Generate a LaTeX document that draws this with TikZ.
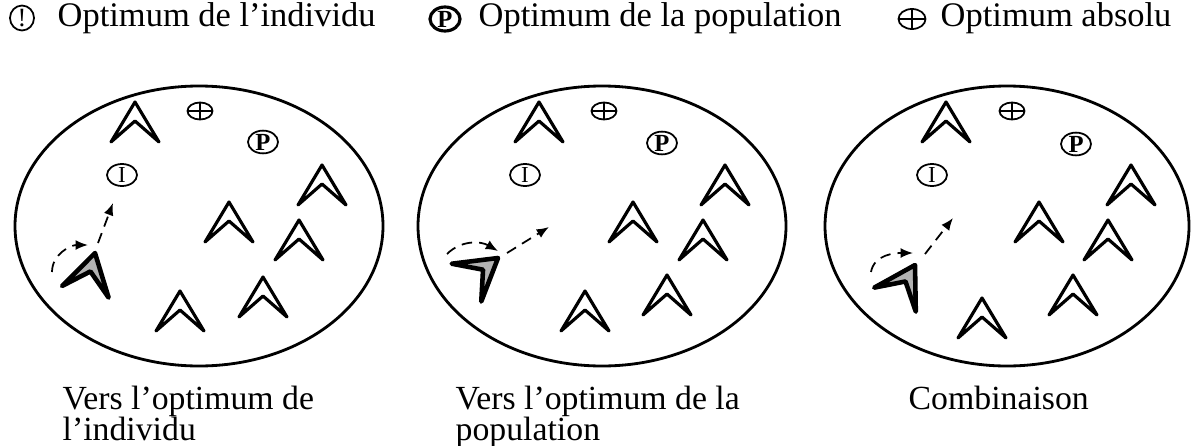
\documentclass[tikz,border=0pt]{standalone}
\usepackage{fontspec}
\setmainfont{Liberation Serif}
\usetikzlibrary{arrows.meta,shapes.geometric}

\begin{document}
\begin{tikzpicture}[x=0.01cm, y=0.01cm,
  every node/.style={font=\fontsize{9.8}{11}\selectfont},
  zone/.style={draw, line width=0.8pt},
  opt/.style={draw, ellipse, line width=0.5pt, inner sep=0pt, minimum width=0.3cm, minimum height=0.22cm, font=\fontsize{6.5}{7}\selectfont},
  optabs/.style={draw, ellipse, line width=0.5pt, inner sep=0pt, minimum width=0.25cm, minimum height=0.17cm},
  legtext/.style={anchor=base west, inner sep=0pt},
  move/.style={densely dashed, line width=0.5pt, -{Latex[length=3.5pt,width=2.8pt]}},
  caption/.style={anchor=north west, inner sep=0pt, align=left, font=\fontsize{9.6}{8.8}\selectfont},
  chev/.pic={\filldraw[fill=white, line width=0.9pt, line join=round] (0,0) -- (24,-40) -- (0,-19) -- (-24,-40) -- cycle;},
  chevcur/.pic={\filldraw[fill=gray!60, line width=1.3pt, line join=round] (0,0) -- (24,-40) -- (0,-19) -- (-24,-40) -- cycle;}]
  \useasboundingbox (0,0) rectangle (1192,445);

  % legend
  \node[opt, minimum width=0.24cm, minimum height=0.22cm, font=\fontsize{7.5}{8}\selectfont] (legi) at (22,427) {!};
  \node[legtext] (legitxt) at (57,418) {Optimum de l'individu};
  \node[opt, minimum width=0.3cm, minimum height=0.24cm, line width=0.9pt, font=\fontsize{7}{8}\bfseries] (legp) at (445,426) {P};
  \node[legtext] (legptxt) at (478,418) {Optimum de la population};
  \node[optabs, minimum width=0.27cm, minimum height=0.2cm] (lega) at (912,426) {};
  \draw[line width=0.5pt] (lega.north) -- (lega.south) (lega.west) -- (lega.east);
  \node[legtext] (legatxt) at (940,418) {Optimum absolu};

  % panel 1: vers l'optimum de l'individu
  \draw[zone] (199,219) ellipse (184 and 140);
  \node[optabs] (a1) at (200,334) {};
  \draw[line width=0.5pt] (a1.north) -- (a1.south) (a1.west) -- (a1.east);
  \node[opt, font=\fontsize{7}{8}\bfseries] (p1) at (263,303) {P};
  \node[opt] (i1) at (122,270) {I};
  \pic at (135,343) {chev};
  \pic at (322,280) {chev};
  \pic at (229,243) {chev};
  \pic at (299,225) {chev};
  \pic at (263,168) {chev};
  \pic at (180,154) {chev};
  \pic[rotate=-14] at (95,192) {chevcur};
  \coordinate (m1a) at (98,202);
  \coordinate (m1b) at (113,242);
  \coordinate (r1a) at (52,173);
  \coordinate (r1b) at (88,200);
  \draw[move] (m1a) -- (m1b);
  \draw[move] (r1a) to[out=90, in=180] (r1b);
  \node[caption] (c1) at (62,60) {Vers l'optimum de\\l'individu};

  % panel 2: vers l'optimum de la population
  \draw[zone] (602,219) ellipse (184 and 140);
  \node[optabs] (a2) at (604,334) {};
  \draw[line width=0.5pt] (a2.north) -- (a2.south) (a2.west) -- (a2.east);
  \node[opt, font=\fontsize{7}{8}\bfseries] (p2) at (662,302) {P};
  \node[opt] (i2) at (525,270) {I};
  \pic at (539,343) {chev};
  \pic at (725,280) {chev};
  \pic at (633,243) {chev};
  \pic at (703,225) {chev};
  \pic at (667,170) {chev};
  \pic at (585,154) {chev};
  \pic[rotate=-52] at (498,187) {chevcur};
  \coordinate (m2a) at (507,192);
  \coordinate (m2b) at (549,218);
  \coordinate (r2a) at (447,191);
  \coordinate (r2b) at (498,194);
  \draw[move] (m2a) -- (m2b);
  \draw[move] (r2a) to[out=45, in=150] (r2b);
  \node[caption] (c2) at (455,60) {Vers l'optimum de la\\population};

  % panel 3: combinaison
  \draw[zone] (1007,219) ellipse (182 and 140);
  \node[optabs] (a3) at (1012,334) {};
  \draw[line width=0.5pt] (a3.north) -- (a3.south) (a3.west) -- (a3.east);
  \node[opt, font=\fontsize{7}{8}\bfseries] (p3) at (1076,301) {P};
  \node[opt] (i3) at (932,270) {I};
  \pic at (946,343) {chev};
  \pic at (1131,280) {chev};
  \pic at (1039,243) {chev};
  \pic at (1108,225) {chev};
  \pic at (1073,170) {chev};
  \pic at (982,147) {chev};
  \pic[rotate=-30] at (915,180) {chevcur};
  \coordinate (m3a) at (925,191);
  \coordinate (m3b) at (953,227);
  \coordinate (r3a) at (871,173);
  \coordinate (r3b) at (913,192);
  \draw[move] (m3a) -- (m3b);
  \draw[move] (r3a) to[out=80, in=180] (r3b);
  \node[caption] (c3) at (908,60) {Combinaison};
\end{tikzpicture}
\end{document}
